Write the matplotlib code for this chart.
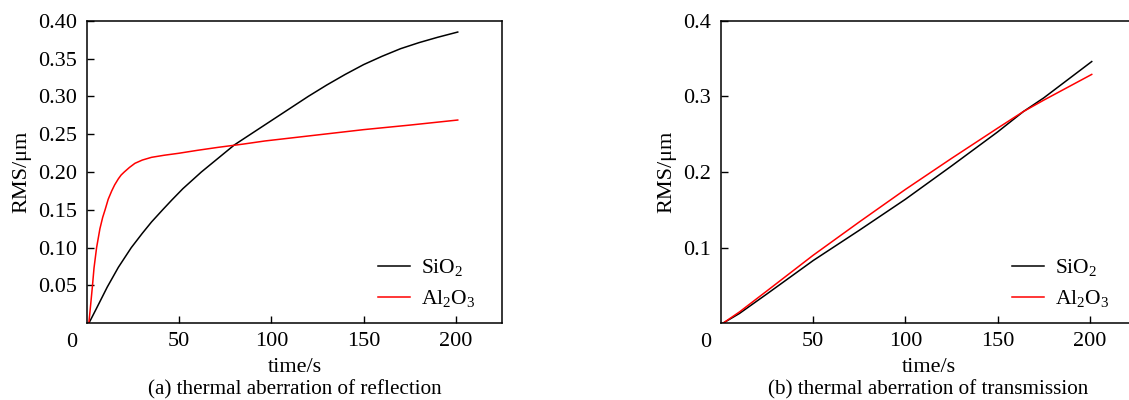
import matplotlib
matplotlib.use("Agg")
import matplotlib.pyplot as plt

plt.rcParams["font.family"] = ["Liberation Serif", "DejaVu Serif"]
plt.rcParams["mathtext.fontset"] = "custom"
plt.rcParams["mathtext.rm"] = "Liberation Serif"
plt.rcParams["mathtext.it"] = "Liberation Serif:italic"
plt.rcParams["font.size"] = 16

# (a) reflection
REF_SIO2_T = [1, 5, 11, 17, 24, 30, 35, 41, 46, 52, 57, 62, 70, 80, 90, 100, 110,
              120, 130, 140, 150, 160, 170, 180, 190, 201]
REF_SIO2_RMS = [0, 0.019, 0.048, 0.074, 0.10, 0.119, 0.134, 0.150, 0.163, 0.178,
                0.189, 0.200, 0.216, 0.236, 0.252, 0.268, 0.284, 0.300, 0.315,
                0.329, 0.342, 0.353, 0.363, 0.371, 0.378, 0.385]
REF_AL2O3_T = [1, 2, 2.9, 3.8, 5.2, 7, 8.5, 9.8, 11.5, 13.4, 15, 17, 18.5, 20.2, 23,
               26, 30, 35, 42, 49.6, 60, 71.1, 85, 96.4, 125, 150, 175, 201]
REF_AL2O3_RMS = [0, 0.025, 0.048, 0.073, 0.10, 0.125, 0.140, 0.150, 0.164, 0.175,
                 0.183, 0.191, 0.196, 0.200, 0.206, 0.2115, 0.2158, 0.2194, 0.2222,
                 0.2247, 0.2287, 0.2326, 0.237, 0.241, 0.249, 0.256, 0.262, 0.2687]

# (b) transmission
TRA_SIO2_T = [1, 10, 25, 50, 75, 100, 125, 150, 164, 175, 188, 201]
TRA_SIO2_RMS = [0, 0.013, 0.039, 0.083, 0.123, 0.164, 0.208, 0.253, 0.28, 0.298,
                0.322, 0.346]
TRA_AL2O3_T = [1, 10, 25, 50, 75, 100, 125, 150, 164, 175, 188, 201]
TRA_AL2O3_RMS = [0, 0.015, 0.043, 0.090, 0.134, 0.177, 0.218, 0.258, 0.28, 0.295,
                 0.312, 0.329]

LABELS = ["SiO$_2$", "Al$_2$O$_3$"]
X_TICKS = [50, 100, 150, 200]
REF_Y_TICKS = [0.05, 0.10, 0.15, 0.20, 0.25, 0.30, 0.35, 0.40]
TRA_Y_TICKS = [0.1, 0.2, 0.3, 0.4]

W, H = 1129, 400
fig = plt.figure(figsize=(W / 100, H / 100), dpi=100)

ax1 = fig.add_axes([87 / W, 1 - 323.3 / H, 415 / W, 302.6 / H])
ax2 = fig.add_axes([721 / W, 1 - 323.3 / H, 415 / W, 302.6 / H])


def style_axes(ax, yticks, yfmt, caption):
    ax.set_xlim(0, 225)
    ax.set_ylim(0, 0.4)
    ax.set_xticks(X_TICKS)
    ax.set_yticks(yticks)
    ax.set_yticklabels([yfmt.format(v) for v in yticks])
    ax.tick_params(direction="in", length=5, width=1, top=False, right=False)
    ax.tick_params(axis="y", pad=7)
    ax.tick_params(axis="x", pad=6)
    for s in ax.spines.values():
        s.set_linewidth(1.1)
    ax.text(-0.036, -0.064, "0", transform=ax.transAxes, ha="center", va="center")
    ax.set_xlabel("time/s", labelpad=5)
    ax.set_ylabel("RMS/\u03bcm", labelpad=5)
    ax.text(0.5, -0.22, caption, transform=ax.transAxes, ha="center", va="center",
            fontsize=15.2)
    ax.legend(loc="lower right", bbox_to_anchor=(0.982, -0.017), frameon=False,
              fontsize=15.5, handlelength=1.5, handletextpad=0.5, labelspacing=0.45)


ax1.plot(REF_SIO2_T, REF_SIO2_RMS, color="black", lw=1.1, label=LABELS[0])
ax1.plot(REF_AL2O3_T, REF_AL2O3_RMS, color="#ff0000", lw=1.1, label=LABELS[1])
style_axes(ax1, REF_Y_TICKS, "{:.2f}", "(a) thermal aberration of reflection")

ax2.plot(TRA_SIO2_T, TRA_SIO2_RMS, color="black", lw=1.1, label=LABELS[0])
ax2.plot(TRA_AL2O3_T, TRA_AL2O3_RMS, color="#ff0000", lw=1.1, label=LABELS[1])
style_axes(ax2, TRA_Y_TICKS, "{:.1f}", "(b) thermal aberration of transmission")
ax2.spines["right"].set_visible(False)

fig.savefig("out.png", dpi=100)
